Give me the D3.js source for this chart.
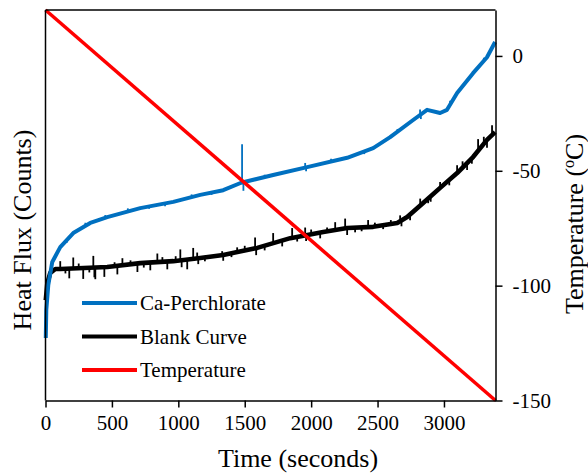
<!DOCTYPE html>
<html>
<head>
<meta charset="utf-8">
<script src="https://cdnjs.cloudflare.com/ajax/libs/d3/7.8.5/d3.min.js"></script>
<style>
  body { margin: 0; background: #fff; }
  svg text { font-family: "Liberation Serif", "Times New Roman", Times, "DejaVu Serif", "Noto Serif", Tinos, serif; fill: #000; }
</style>
</head>
<body>
<svg id="svg"></svg>
<script>
// time (s) ticks on the x axis
const timeTicks = [0, 500, 1000, 1500, 2000, 2500, 3000];
const tempTicks = [0, -50, -100, -150];

// Ca-Perchlorate heat flux (arbitrary counts)
const perchTime = [2, 6, 21, 51, 111, 209, 337, 465, 713, 962, 1165, 1338, 1473, 1714, 1970, 2271, 2467, 2595, 2768, 2873, 2971, 3023, 3099, 3219, 3324, 3385];
const perchFlux = [159, 231, 295, 354, 392, 428, 454, 469, 492, 508, 526, 538, 557, 577, 597, 621, 646, 674, 718, 744, 736, 744, 787, 838, 879, 918];
// spikes on the blue trace: [time, offset]
const perchSpikes = [[1480, 98], [1490, -22], [1955, 12], [1962, -10], [2820, 14], [2826, -12], [3046, 10], [620, 8], [900, -7],
  [300, 8], [1100, 7], [1250, -6], [2150, 7], [2400, -7], [3300, 8], [160, -7], [450, 7], [780, -6], [1650, 6], [2650, 7]];

// Blank curve heat flux
const blankTime = [2, 14, 36, 74, 111, 465, 713, 962, 1165, 1338, 1594, 1843, 2091, 2271, 2467, 2648, 2723, 2843, 2971, 3099, 3219, 3324, 3385];
const blankFlux = [256, 300, 326, 336, 336, 341, 351, 356, 364, 372, 390, 415, 431, 441, 444, 454, 469, 505, 544, 582, 623, 667, 687];
const blankSpikes = [[111, 20], [179, -25], [209, 28], [284, -28], [360, 30], [368, -25], [375, -30], [443, -25],
  [541, -22], [579, 18], [692, -22], [789, -20], [842, 22], [917, -20], [1015, 28], [1025, -18], [1067, -25],
  [1112, 28], [1142, 15], [1150, -15], [1330, 10], [1338, -15], [1443, 12], [1578, 28], [1586, -18], [1714, 26],
  [1782, -15], [1857, 25], [1895, -12], [1955, 20], [1962, -15], [2068, -15], [2181, 20], [2256, 25], [2271, -18],
  [2331, -12], [2429, 18], [2542, -10], [2670, 15], [2680, -15], [2745, -15], [2821, 18], [2881, -12], [2971, 15],
  [3099, 20], [3174, -18], [3257, 30], [3324, -20], [3362, 25],
  [150, -12], [250, 12], [330, -12], [520, 10], [640, 10], [740, -12], [880, 12], [980, 12], [1200, -10],
  [1400, -10], [1500, 12], [1650, -12], [2000, 12], [2120, 10], [2380, -10], [2480, 10], [2600, 10], [2900, -14],
  [3040, -14], [3140, 16], [3210, -14], [3300, 18]];

// temperature ramp (°C)
const rampTime = [0, 3388];
const rampTemp = [20, -150];

const legendNames = ["Ca-Perchlorate", "Blank Curve", "Temperature"];
const legendColors = ["#0070c0", "#000000", "#ff0000"];

const width = 588, height = 474;
const plotLeft = 45.5, plotRight = 495.5, plotTop = 10, plotBottom = 400.5;

let svg = d3.select("#svg").attr("width", width).attr("height", height);

let x = d3.scaleLinear().domain([0, 3388]).range([plotLeft, plotRight]);
let yFlux = d3.scaleLinear().domain([0, 1000]).range([400, 10]);
let yTemp = d3.scaleLinear().domain([-150, 20]).range([plotBottom, plotTop]);

let line = d3.line().x(d => x(d[0])).y(d => yFlux(d[1]));

// noisy trace: thick base line plus thin spikes
function drawTrace(times, values, spikes, color, w) {
  let base = d3.scaleLinear().domain(times).range(values);
  svg.append("path")
    .datum(times.map((t, i) => [t, values[i]]))
    .attr("d", line)
    .attr("fill", "none")
    .attr("stroke", color)
    .attr("stroke-width", w)
    .attr("stroke-linejoin", "round");
  svg.append("g").selectAll("line")
    .data(spikes)
    .join("line")
      .attr("x1", d => x(d[0])).attr("x2", d => x(d[0]))
      .attr("y1", d => yFlux(base(d[0])))
      .attr("y2", d => yFlux(base(d[0]) + d[1]))
      .attr("stroke", color)
      .attr("stroke-width", 1.8);
}

drawTrace(blankTime, blankFlux, blankSpikes, legendColors[1], 4.6);
drawTrace(perchTime, perchFlux, perchSpikes, legendColors[0], 4);

svg.append("path")
  .datum(rampTime.map((t, i) => [t, rampTemp[i]]))
  .attr("d", d3.line().x(d => x(d[0])).y(d => yTemp(d[1])))
  .attr("fill", "none")
  .attr("stroke", legendColors[2])
  .attr("stroke-width", 3.5);

// frame: top line and left axis (no ticks)
svg.append("line").attr("x1", plotLeft).attr("x2", plotRight).attr("y1", plotTop).attr("y2", plotTop)
  .attr("stroke", "#000").attr("stroke-width", 1.5);
svg.append("line").attr("x1", plotLeft).attr("x2", plotLeft).attr("y1", plotTop).attr("y2", plotBottom)
  .attr("stroke", "#000").attr("stroke-width", 1.5);

// bottom axis
let xAxis = svg.append("g")
  .attr("transform", `translate(0,${plotBottom})`)
  .call(d3.axisBottom(x).tickValues(timeTicks).tickFormat(d => String(d))
    .tickSize(7).tickSizeOuter(0).tickPadding(8));
xAxis.attr("font-family", null);
xAxis.select(".domain").attr("stroke-width", 1.5);
xAxis.selectAll(".tick line").attr("stroke-width", 1.5);
xAxis.selectAll("text").style("font-size", "21px");

// right axis
let yAxis = svg.append("g")
  .attr("transform", `translate(${plotRight},0)`)
  .call(d3.axisRight(yTemp).tickValues(tempTicks).tickFormat(d => String(d))
    .tickSize(7).tickSizeOuter(0).tickPadding(10));
yAxis.attr("font-family", null);
yAxis.select(".domain").attr("stroke-width", 1.5);
yAxis.selectAll(".tick line").attr("stroke-width", 1.5);
yAxis.selectAll("text").style("font-size", "21px");

// axis titles
svg.append("text")
  .attr("x", 298).attr("y", 467)
  .attr("text-anchor", "middle")
  .style("font-size", "26px")
  .text("Time (seconds)");

svg.append("text")
  .attr("transform", "translate(31,230) rotate(-90)")
  .attr("text-anchor", "middle")
  .style("font-size", "26px")
  .text("Heat Flux (Counts)");

let tt = svg.append("text")
  .attr("transform", "translate(583,224) rotate(-90)")
  .attr("text-anchor", "middle")
  .style("font-size", "26px");
tt.append("tspan").text("Temperature (");
tt.append("tspan").attr("dy", -9).style("font-size", "16px").text("o");
tt.append("tspan").attr("dy", 9).text("C)");

// legend
let legend = svg.append("g");
legendNames.forEach((name, i) => {
  let yy = 303 + i * 33.5;
  legend.append("line")
    .attr("x1", 82).attr("x2", 137).attr("y1", yy).attr("y2", yy)
    .attr("stroke", legendColors[i]).attr("stroke-width", 4);
  legend.append("text")
    .attr("x", 140).attr("y", yy + 7)
    .style("font-size", "21px")
    .text(name);
});
</script>
</body>
</html>
